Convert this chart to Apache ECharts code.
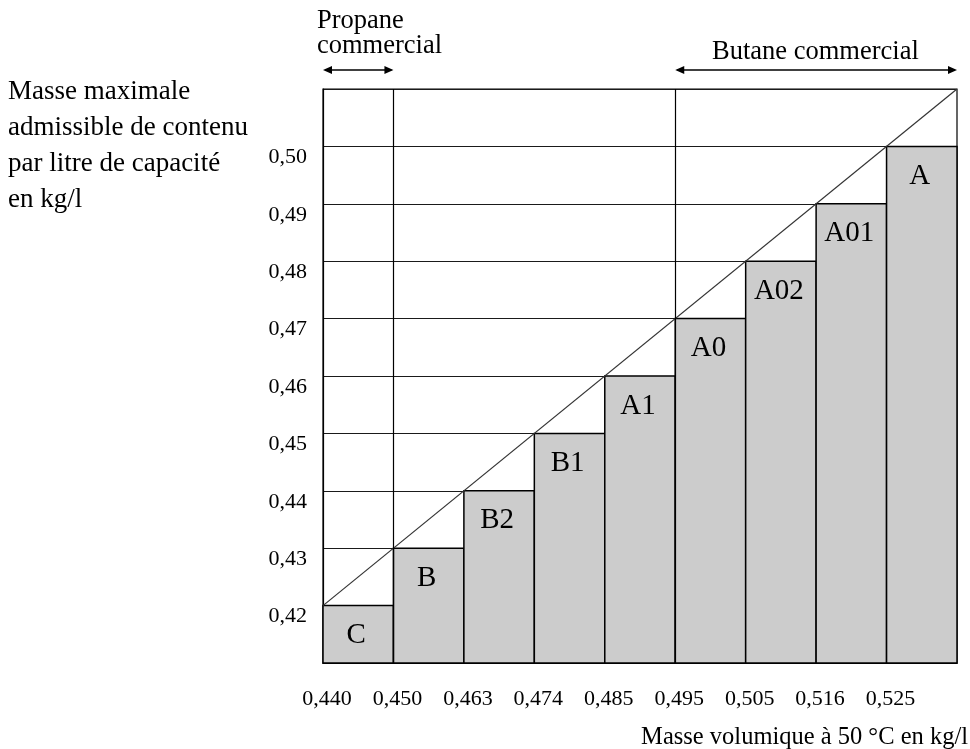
<!DOCTYPE html>
<html>
<head>
<meta charset="utf-8">
<script src="https://cdn.jsdelivr.net/npm/echarts@6/dist/echarts.min.js"></script>
<style>
html,body{margin:0;padding:0;background:#fff;}
#chart{width:970px;height:749px;}
</style>
</head>
<body>
<div id="chart"></div>
<script>
// ---- data ----
var xTickLabels = ['0,440','0,450','0,463','0,474','0,485','0,495','0,505','0,516','0,525'];
var yTickLabels = ['0,42','0,43','0,44','0,45','0,46','0,47','0,48','0,49','0,50'];
var classNames = ['C','B','B2','B1','A1','A0','A02','A01','A'];
var classMaxMass = [0.42,0.43,0.44,0.45,0.46,0.47,0.48,0.49,0.50];
var diagonal = [[0,0.42],[9,0.51]];
var groupBounds = [1,5]; // propane / butane limits (category index)
var Y_MIN = 0.41, Y_MAX = 0.51;

var FONT = '"Liberation Serif", "Times New Roman", serif';
var chart = echarts.init(document.getElementById('chart'));

var barData = classMaxMass.map(function(v,i){ return [i, v]; });

var option = {
  animation: false,
  grid: {left: 323, right: 13, top: 89, bottom: 86, show: true, borderColor: '#000', borderWidth: 1.2, backgroundColor: 'transparent'},
  xAxis: {
    type: 'value', min: 0, max: 9, interval: 1,
    axisLine: {show: true, lineStyle: {color: '#000', width: 1.2}},
    axisTick: {show: false},
    splitLine: {show: false},
    axisLabel: {
      margin: 25, fontSize: 22, fontFamily: FONT, color: '#000', padding: [0,0,0,8],
      formatter: function(v){ var k = Math.round(v); return (k >= 0 && k < xTickLabels.length) ? xTickLabels[k] : ''; }
    }
  },
  yAxis: {
    type: 'value', min: Y_MIN, max: Y_MAX, interval: 0.01,
    axisLine: {show: true, lineStyle: {color: '#000', width: 1.2}},
    axisTick: {show: false},
    splitLine: {show: true, lineStyle: {color: '#1a1a1a', width: 1}},
    axisLabel: {
      margin: 16, fontSize: 22, fontFamily: FONT, color: '#000', verticalAlign: 'top',
      formatter: function(v){ var k = Math.round(v*100) - 42; return (k >= 0 && k < yTickLabels.length) ? yTickLabels[k] : ''; }
    }
  },
  series: [
    {
      type: 'custom',
      data: barData,
      z: 3,
      renderItem: function(params, api){
        var i = api.value(0), v = api.value(1);
        var p0 = api.coord([i, Y_MIN]);
        var p1 = api.coord([i + 1, v]);
        return {
          type: 'group',
          children: [
            {type: 'rect', shape: {x: p0[0], y: p1[1], width: p1[0] - p0[0], height: p0[1] - p1[1]},
             style: {fill: '#cccccc', stroke: '#000', lineWidth: 1.5}},
            {type: 'text', x: (p0[0] + p1[0]) / 2 - 2, y: p1[1] + 30,
             style: {text: classNames[params.dataIndex], fontSize: 29, fontFamily: FONT, fill: '#000', align: 'center', verticalAlign: 'middle'}}
          ]
        };
      }
    },
    {
      type: 'line',
      data: diagonal,
      z: 4,
      symbol: 'none',
      lineStyle: {color: '#333', width: 1.2},
      markLine: {
        silent: true, symbol: 'none', label: {show: false},
        lineStyle: {color: '#000', width: 1.2, type: 'solid'},
        data: groupBounds.map(function(b){ return {xAxis: b}; })
      }
    }
  ]
};
chart.setOption(option);

function arrow(xa, xb, y){
  var h = 9, w = 4;
  return [
    {type: 'line', shape: {x1: xa + 2, y1: y, x2: xb - 2, y2: y}, style: {stroke: '#000', lineWidth: 1.5}},
    {type: 'polygon', shape: {points: [[xa, y], [xa + h, y - w], [xa + h, y + w]]}, style: {fill: '#000'}},
    {type: 'polygon', shape: {points: [[xb, y], [xb - h, y - w], [xb - h, y + w]]}, style: {fill: '#000'}}
  ];
}
var pA = chart.convertToPixel({gridIndex: 0}, [0, Y_MAX]);
var pB = chart.convertToPixel({gridIndex: 0}, [groupBounds[0], Y_MAX]);
var pC = chart.convertToPixel({gridIndex: 0}, [groupBounds[1], Y_MAX]);
var pD = chart.convertToPixel({gridIndex: 0}, [9, Y_MAX]);
var ay = pA[1] - 19;

var graphics = [].concat(arrow(pA[0], pB[0], ay), arrow(pC[0], pD[0], ay), [
  {type: 'text', x: 317, y: 9, style: {text: 'Propane\ncommercial', fontSize: 26.5, lineHeight: 25, fontFamily: FONT, fill: '#000', align: 'left', verticalAlign: 'top'}},
  {type: 'text', x: 712, y: 52, style: {text: 'Butane commercial', fontSize: 26.5, fontFamily: FONT, fill: '#000', align: 'left', verticalAlign: 'middle'}},
  {type: 'text', x: 8, y: 74, style: {text: 'Masse maximale\nadmissible de contenu\npar litre de capacité\nen kg/l', fontSize: 27, lineHeight: 36, fontFamily: FONT, fill: '#000', align: 'left', verticalAlign: 'top'}},
  {type: 'text', x: 968, y: 738, style: {text: 'Masse volumique à 50 °C en kg/l', fontSize: 24.5, fontFamily: FONT, fill: '#000', align: 'right', verticalAlign: 'middle'}}
]);
chart.setOption({graphic: {elements: graphics}});
</script>
</body>
</html>
